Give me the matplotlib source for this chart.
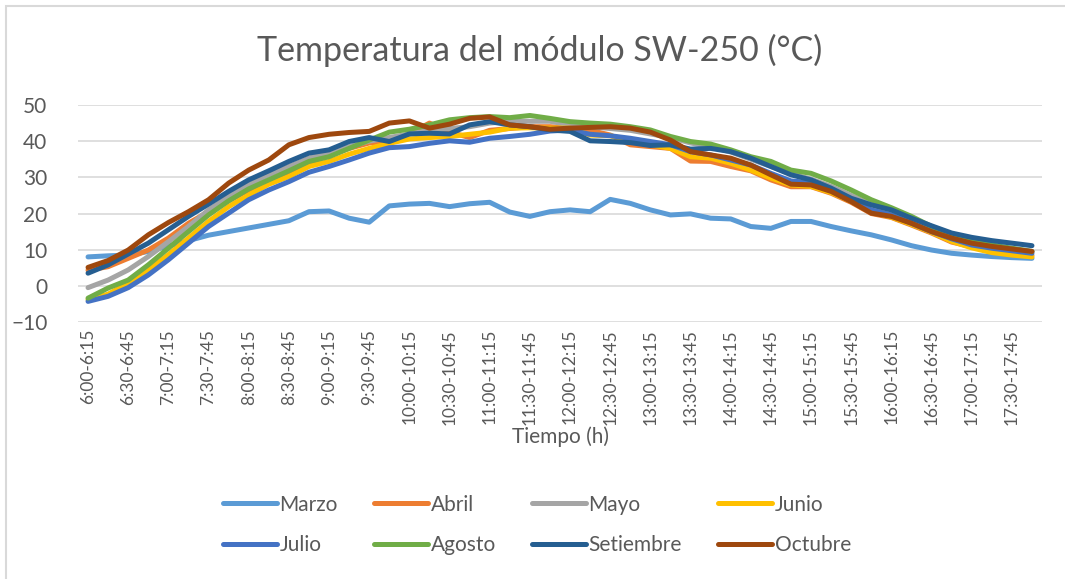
"""Temperatura del modulo SW-250 por mes, estilo grafico de Excel."""

import matplotlib

matplotlib.use("Agg")
import matplotlib.pyplot as plt
from matplotlib.patches import Rectangle

# intervalos de 15 min de 6:00 a 18:00
times = [f"{h}:{m:02d}" for h in range(6, 18) for m in (0, 15, 30, 45)] + ["18:00"]
categories = [f"{a}-{b}" for a, b in zip(times[:-1], times[1:])]

marzo = [8.0, 8.3, 8.5, 9.5, 11.0, 12.5, 14.0, 15.0, 16.0, 17.0, 18.0, 20.5,
         20.7, 18.7, 17.6, 22.1, 22.6, 22.8, 21.9, 22.7, 23.1, 20.4, 19.2, 20.5,
         21.0, 20.5, 23.9, 22.8, 21.0, 19.6, 19.9, 18.7, 18.5, 16.4, 15.9, 17.8,
         17.8, 16.4, 15.2, 14.1, 12.7, 11.1, 9.9, 9.0, 8.5, 8.1, 7.8, 7.6]
abril = [4.3, 5.3, 7.6, 9.9, 13.2, 17.3, 20.5, 23.5, 26.5, 29.0, 31.5, 34.0,
         36.0, 38.0, 39.5, 40.0, 42.0, 45.0, 42.5, 41.0, 43.0, 43.5, 44.0, 44.0,
         43.6, 43.0, 41.7, 39.0, 38.5, 38.0, 34.5, 34.4, 33.0, 31.8, 29.3, 27.4,
         27.4, 25.6, 23.1, 20.0, 18.9, 16.8, 14.6, 12.1, 10.8, 9.7, 9.0, 8.4]
mayo = [-0.5, 1.6, 4.4, 8.1, 12.2, 16.4, 21.0, 24.7, 27.9, 30.7, 33.0, 35.3,
        37.0, 38.5, 40.0, 41.0, 42.0, 43.0, 43.5, 44.0, 45.0, 45.5, 45.5, 45.5,
        44.5, 44.0, 43.5, 43.0, 42.0, 41.0, 39.5, 38.5, 37.0, 35.0, 33.0, 31.0,
        29.5, 27.5, 25.0, 22.5, 20.5, 18.5, 16.0, 14.0, 12.5, 11.0, 10.0, 9.5]
junio = [-3.8, -2.3, 0.7, 4.4, 8.6, 13.2, 17.8, 21.9, 25.1, 28.1, 30.2, 33.0,
         34.4, 36.4, 38.0, 39.4, 40.6, 41.0, 41.3, 41.9, 42.5, 43.6, 43.7, 43.6,
         43.6, 41.7, 41.5, 40.3, 39.0, 38.0, 35.7, 35.3, 33.9, 32.0, 29.8, 27.9,
         27.5, 25.8, 23.4, 20.5, 19.0, 17.0, 14.8, 12.3, 10.5, 9.2, 8.5, 8.0]
julio = [-4.3, -2.9, -0.5, 3.0, 7.2, 11.8, 16.4, 20.1, 23.8, 26.5, 28.8, 31.4,
         33.0, 34.8, 36.7, 38.2, 38.5, 39.4, 40.1, 39.7, 40.8, 41.3, 41.9, 42.8,
         43.1, 41.9, 41.5, 40.8, 39.9, 39.0, 37.1, 36.2, 34.8, 33.4, 31.1, 29.0,
         28.5, 26.5, 23.8, 21.0, 19.6, 17.3, 15.0, 13.0, 11.3, 10.4, 9.7, 9.0]
agosto = [-3.4, -0.6, 1.6, 5.8, 10.4, 15.0, 19.6, 23.5, 26.8, 29.3, 31.8, 34.4,
          35.7, 38.0, 40.3, 42.5, 43.3, 44.5, 45.9, 46.5, 46.8, 46.5, 47.1, 46.3,
          45.4, 45.0, 44.7, 44.0, 43.1, 41.3, 39.9, 39.2, 37.6, 35.7, 34.4, 32.0,
          31.1, 29.0, 26.5, 23.8, 21.6, 19.2, 16.4, 14.1, 12.2, 11.3, 10.4, 9.5]
setiembre = [3.5, 5.8, 8.8, 11.8, 15.5, 19.2, 22.6, 26.1, 29.3, 31.8, 34.4, 36.7,
             37.6, 39.9, 41.0, 39.9, 42.0, 42.2, 42.0, 44.5, 45.4, 44.5, 44.0, 43.1,
             42.7, 40.1, 39.9, 39.6, 38.8, 39.0, 37.8, 38.0, 37.1, 35.3, 33.0, 30.7,
             29.3, 27.0, 24.2, 22.4, 21.0, 18.7, 16.6, 14.6, 13.4, 12.5, 11.8, 11.1]
octubre = [5.1, 7.0, 9.9, 14.1, 17.5, 20.5, 23.8, 28.4, 32.0, 34.8, 39.0, 41.0,
           41.9, 42.4, 42.7, 45.0, 45.6, 43.6, 44.7, 46.3, 46.7, 44.5, 44.0, 43.3,
           43.6, 43.8, 44.0, 43.6, 42.5, 40.3, 37.1, 36.2, 35.3, 33.4, 30.7, 28.1,
           27.9, 26.1, 23.3, 20.1, 19.2, 17.3, 15.0, 13.2, 11.8, 10.9, 10.2, 9.5]

series_names = ["Marzo", "Abril", "Mayo", "Junio", "Julio", "Agosto", "Setiembre", "Octubre"]
series_values = [marzo, abril, mayo, junio, julio, agosto, setiembre, octubre]
series_colors = ["#5B9BD5", "#ED7D31", "#A5A5A5", "#FFC000",
                 "#4472C4", "#70AD47", "#255E91", "#9E480E"]
y_ticks = [-10, 0, 10, 20, 30, 40, 50]

TEXT = "#595959"
GRID = "#D9D9D9"
LEGEND_COLS = 4


def main() -> int:
    plt.rcParams["font.family"] = ["Lato", "DejaVu Sans"]
    fig = plt.figure(figsize=(10.65, 5.79), dpi=100)
    ax = fig.add_axes([78 / 1065, 1 - 322 / 579, (1042 - 78) / 1065, (322 - 105) / 579])

    x = list(range(len(categories)))
    lines = []
    for name, values, color in zip(series_names, series_values, series_colors):
        (line,) = ax.plot(x, values, color=color, lw=3.6, label=name, solid_capstyle="round")
        lines.append(line)

    ax.set_xlim(-0.5, len(categories) - 0.5)
    ax.set_ylim(y_ticks[0], y_ticks[-1])
    ax.set_yticks(y_ticks)
    ax.set_xticks(x[::2])
    ax.set_xticklabels(categories[::2], rotation=90, fontsize=12.5, color=TEXT)
    ax.tick_params(axis="y", labelsize=15, labelcolor=TEXT, length=0, pad=22)
    ax.tick_params(axis="x", length=0, pad=5)
    ax.grid(axis="y", color=GRID, lw=1.2)
    ax.set_axisbelow(True)
    for spine in ax.spines.values():
        spine.set_visible(False)

    ax.set_xlabel("Tiempo (h)", fontsize=15, color=TEXT, labelpad=1)
    fig.text(540 / 1065, 1 - 50 / 579, "Temperatura del módulo SW-250 (°C)",
             ha="center", va="center", fontsize=24.5, color=TEXT)

    # matplotlib llena la leyenda por columnas; reordenar para que se lea por filas
    n_rows = -(-len(lines) // LEGEND_COLS)
    order = [r * LEGEND_COLS + c for c in range(LEGEND_COLS) for r in range(n_rows)
             if r * LEGEND_COLS + c < len(lines)]
    fig.legend([lines[i] for i in order], [series_names[i] for i in order],
               loc="center", bbox_to_anchor=(537 / 1065, 1 - 525 / 579), ncol=LEGEND_COLS,
               frameon=False, fontsize=15, handlelength=2.6, handletextpad=0.1,
               columnspacing=1.75, labelspacing=1.0, labelcolor=TEXT)

    # borde del area del grafico (solo visible arriba e izquierda)
    fig.patches.append(Rectangle((6 / 1065, -0.1), 1.2, 1 - 6 / 579 + 0.1,
                                 transform=fig.transFigure, fill=False,
                                 edgecolor=GRID, lw=1.5))

    fig.savefig("out.png", dpi=100)
    return 0


if __name__ == "__main__":
    raise SystemExit(main())
